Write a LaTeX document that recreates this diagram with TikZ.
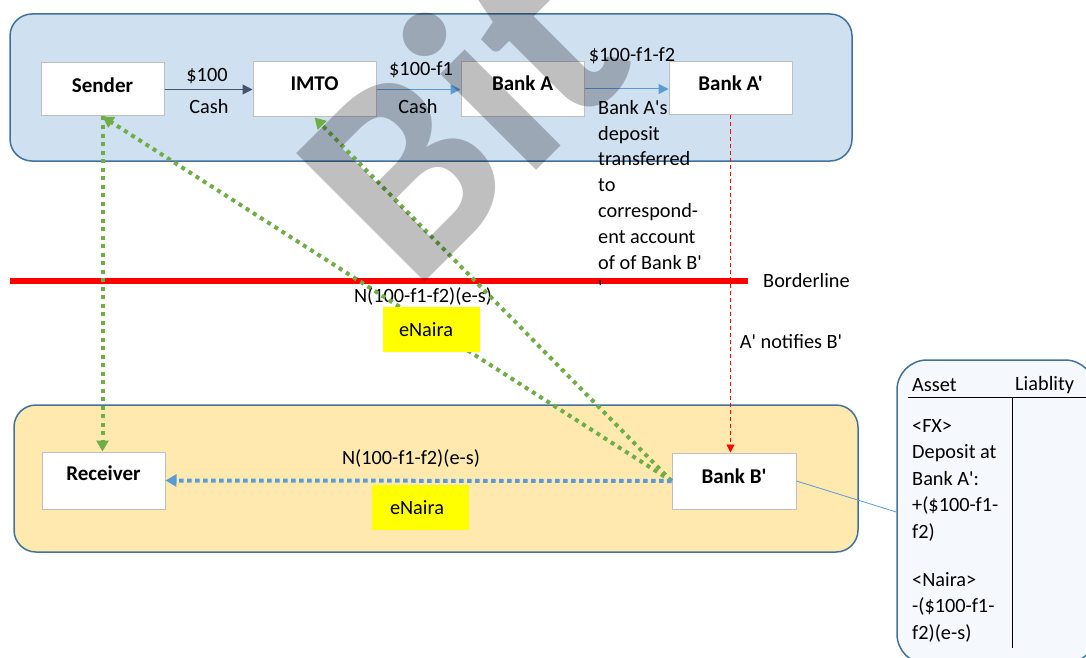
\documentclass[tikz,border=0pt]{standalone}
\usepackage{fontspec}
\setmainfont{Carlito}[Ligatures=TeXOff]
\usetikzlibrary{arrows.meta}
\definecolor{topfill}{RGB}{207,224,241}
\definecolor{botfill}{RGB}{255,233,175}
\definecolor{frame}{RGB}{65,113,156}
\definecolor{boxgray}{RGB}{191,191,191}
\definecolor{ggreen}{RGB}{112,173,71}
\definecolor{lblue}{RGB}{91,155,213}
\definecolor{slate}{RGB}{68,84,106}
\definecolor{tfill}{RGB}{245,249,253}
\definecolor{yel}{RGB}{255,255,0}
\tikzset{
  lbl/.style={font=\fontsize{20.3}{25.8}\selectfont, inner sep=0pt},
  panel/.style={draw=frame, line width=1.5pt, rounded corners=22pt, inner sep=0pt},
  entity/.style={draw=boxgray, line width=1pt, fill=white, minimum width=123pt, minimum height=55pt, inner sep=0pt},
  ename/.style={font=\fontsize{21}{24}\selectfont\bfseries, inner sep=0pt},
  yelbox/.style={fill=yel, minimum width=97pt, minimum height=45pt, inner sep=0pt},
  gdot/.style={draw=ggreen, line width=4pt, dash pattern=on 4pt off 4.5pt, -{Triangle[length=11pt,width=12pt]}},
  bdot/.style={draw=lblue, line width=4pt, dash pattern=on 4.5pt off 3.5pt, -{Triangle[length=11pt,width=12pt]}},
  flow/.style={line width=1pt, -{Triangle[length=10pt,width=10pt]}},
}
\begin{document}
\begin{tikzpicture}[x=1pt,y=-1pt]
\useasboundingbox (0,0) rectangle (1086,658);
\clip (0,0) rectangle (1086,658);
% panels
\node[panel, fill=topfill, minimum width=842pt, minimum height=147pt] (toppanel) at (431,87.5) {};
\node[panel, fill=botfill, minimum width=844pt, minimum height=147pt] (botpanel) at (436,478.5) {};
% entities
\node[entity, minimum height=53pt, label={[ename, yshift=4.5pt]center:Sender}] (sender) at (102.5,89.5) {};
\node[entity, label={[ename, yshift=6pt]center:IMTO}] (imto) at (314.5,89.5) {};
\node[entity, label={[ename, yshift=6pt]center:Bank A}] (banka) at (522.5,89.5) {};
\node[entity, minimum height=53pt, label={[ename, yshift=5.5pt]center:Bank A'}] (bankap) at (730.5,88.5) {};
\node[entity, minimum height=57pt, label={[ename, yshift=7pt]center:Receiver}] (receiver) at (103.5,480.5) {};
\node[entity, minimum width=124pt, minimum height=56pt, label={[ename, yshift=5pt]center:Bank B'}] (bankbp) at (734,481) {};
% top flows
\draw[flow, slate] (sender.east) -- (imto.west);
\draw[flow, lblue] (imto.east) -- (banka.west);
\draw[flow, lblue] (banka.east |- 0,89) -- (bankap.west |- 0,89);
\node[lbl] (l1) at (207,76) {\$100};
\node[lbl] (l2) at (209,107) {Cash};
\node[lbl] (l3) at (421,70) {\$100-f1};
\node[lbl] (l4) at (418,107) {Cash};
\node[lbl] (l5) at (632,56) {\$100-f1-f2};
% borderline
\draw[red, line width=5.5pt] (10,281) -- (748,281) coordinate (bend);
\node[lbl, anchor=west] (border) at (763,281) {Borderline};
\node[lbl, anchor=north west, align=left] (note) at (598,100) {Bank A's\\deposit\\transferred\\to\\correspond-\\ent account\\of of Bank B'\\'};
% notification
\draw[red, line width=0.8pt, dash pattern=on 4pt off 3pt, -{Triangle[length=8pt,width=8pt]}] (bankap.south) -- (bankap.south |- bankbp.north);
\node[lbl] (notif) at (791,342) {A' notifies B'};
% upper eNaira
\node[lbl] (n1) at (423,296) {N(100-f1-f2)(e-s)};
% green dotted arrows
\draw[gdot] (sender.south) -- (sender.south |- receiver.north);
\draw[gdot] (bankbp.west) -- (sender.south);
\draw[gdot] (bankbp.west) -- (imto.south);
\node[yelbox] (y1) at (431.5,329.5) {};
\node[lbl] (e1) at (426,330) {eNaira};
% receiver flow
\draw[bdot] (bankbp.west) -- (receiver.east);
\node[lbl] (n2) at (411,458) {N(100-f1-f2)(e-s)};
\node[yelbox] (y2) at (420.5,507.5) {};
\node[lbl] (e2) at (417,508) {eNaira};
% T-account
\node[draw=frame, line width=1.5pt, fill=tfill, rounded corners=30pt, minimum width=198pt, minimum height=304pt] (tacct) at (996,512) {};
\draw[lblue, line width=0.8pt] (bankbp.east) -- (tacct.west);
\node[lbl, anchor=west] (asset) at (912,385) {Asset};
\node[lbl, anchor=west] (liab) at (1015,385) {Liablity};
\draw[line width=1pt] (908,397) coordinate (h1) -- (1090,397) coordinate (h2);
\draw[line width=1pt] (1012,397) coordinate (v1) -- (1012,648) coordinate (v2);
\node[lbl, anchor=north west, align=left, font=\fontsize{20.3}{26.5}\selectfont] (fx) at (912,419) {<FX>\\Deposit at\\Bank A':\\+(\$100-f1-\\f2)};
\node[lbl, anchor=north west, align=left, font=\fontsize{20.3}{26.5}\selectfont] (naira) at (912,572) {<Naira>\\-(\$100-f1-\\f2)(e-s)};
% watermark
\node[rotate=45, anchor=base west, inner sep=0pt, opacity=0.25, font=\fontsize{280}{280}\selectfont\bfseries] (wm) at (413,294) {Bit};
\end{tikzpicture}
\end{document}
